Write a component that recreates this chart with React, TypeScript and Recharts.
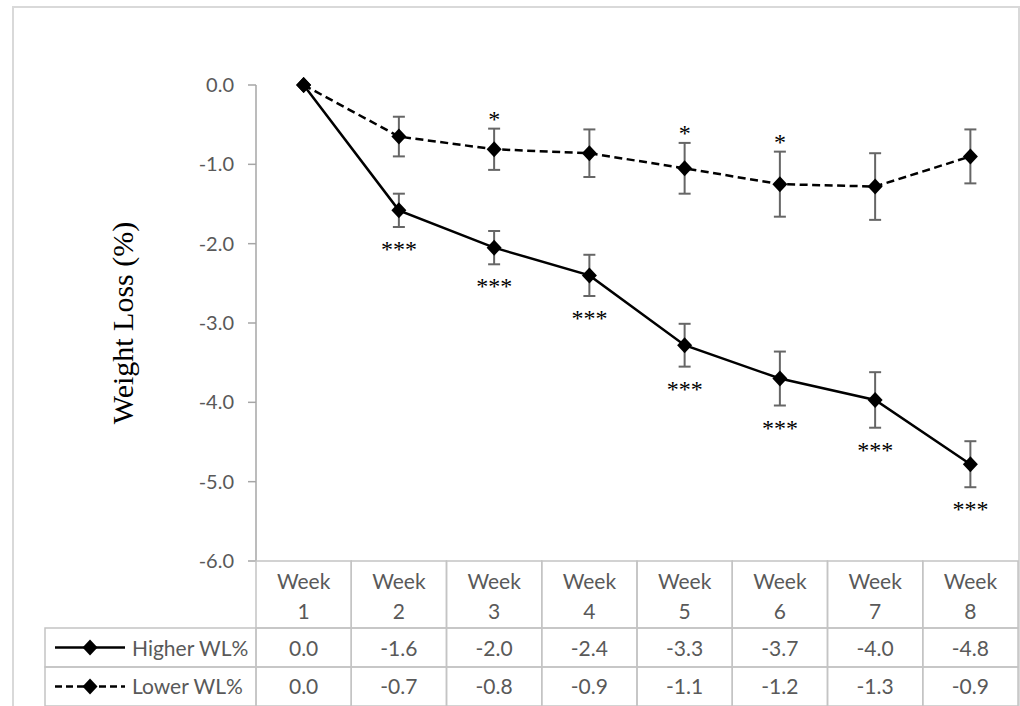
import React from "react";
import { LineChart, Line, XAxis, YAxis, ErrorBar, LabelList } from "recharts";

const weekNums = [1, 2, 3, 4, 5, 6, 7, 8];
const higher = [0, -1.58, -2.05, -2.4, -3.28, -3.7, -3.97, -4.78];
const higherErr = [0, 0.21, 0.21, 0.26, 0.27, 0.34, 0.35, 0.29];
const lower = [0, -0.65, -0.81, -0.86, -1.05, -1.25, -1.28, -0.9];
const lowerErr = [0, 0.25, 0.26, 0.3, 0.32, 0.41, 0.42, 0.34];
const higherTable = ["0.0", "-1.6", "-2.0", "-2.4", "-3.3", "-3.7", "-4.0", "-4.8"];
const lowerTable = ["0.0", "-0.7", "-0.8", "-0.9", "-1.1", "-1.2", "-1.3", "-0.9"];
const higherSig = ["", "***", "***", "***", "***", "***", "***", "***"];
const lowerSig = ["", "", "*", "", "*", "*", "", ""];
const yTicks = [0, -1, -2, -3, -4, -5, -6];

const data = weekNums.map((n, i) => ({
  week: `Week ${n}`,
  num: n,
  higher: higher[i],
  higherErr: higherErr[i],
  lower: lower[i],
  lowerErr: lowerErr[i],
  higherLow: higher[i] - higherErr[i],
  lowerHigh: lower[i] + lowerErr[i],
  higherSig: higherSig[i],
  lowerSig: lowerSig[i],
  higherTable: higherTable[i],
  lowerTable: lowerTable[i]
}));

const W = 1020;
const H = 712;
const AXIS_W = 256;
const RIGHT = 2;
const BAND = (W - RIGHT - AXIS_W) / weekNums.length;
const HEAD_H = 67;
const ROW_H = 39;
const LEGEND_LEFT = 45;

const FONT = "Lato, 'Open Sans', sans-serif";
const SERIF = "'Liberation Serif', 'Times New Roman', serif";
const TEXT = "#595959";
const GRID = "#c4c4c4";
const AXIS = "#a6a6a6";
const ERR = "#666666";

function Diamond(props: any) {
  const { cx, cy } = props;
  if (cx == null || cy == null) return null;
  return (
    <polygon
      points={`${cx},${cy - 8} ${cx + 7.5},${cy} ${cx},${cy + 8} ${cx - 7.5},${cy}`}
      fill="#000"
    />
  );
}

function LegendIcon({ y, dashed }: { y: number; dashed: boolean }) {
  return (
    <g>
      <line
        x1={55}
        x2={125}
        y1={y}
        y2={y}
        stroke="#000"
        strokeWidth={2.5}
        strokeDasharray={dashed ? "7 4" : undefined}
      />
      <Diamond cx={90} cy={y} />
    </g>
  );
}

function TableTick(props: any) {
  const { x, y, payload } = props;
  const i = payload.index;
  const d = data[i];
  const left = x - BAND / 2;
  const r1 = y + HEAD_H;
  const r2 = r1 + ROW_H;
  const txt = { fill: TEXT, fontSize: 21, fontFamily: FONT, textAnchor: "middle" as const, dominantBaseline: "central" as const };
  return (
    <g>
      <rect x={left} y={y} width={BAND} height={HEAD_H} fill="none" stroke={GRID} strokeWidth={1.5} />
      <rect x={left} y={r1} width={BAND} height={ROW_H} fill="none" stroke={GRID} strokeWidth={1.5} />
      <rect x={left} y={r2} width={BAND} height={ROW_H} fill="none" stroke={GRID} strokeWidth={1.5} />
      <text x={x} y={y + 19} {...txt}>Week</text>
      <text x={x} y={y + 49} {...txt}>{d.num}</text>
      <text x={x} y={r1 + ROW_H / 2} {...txt}>{d.higherTable}</text>
      <text x={x} y={r2 + ROW_H / 2 - 1} {...txt}>{d.lowerTable}</text>
      {i === 0 && (
        <g>
          <rect x={LEGEND_LEFT} y={r1} width={left - LEGEND_LEFT} height={ROW_H} fill="none" stroke={GRID} strokeWidth={1.5} />
          <rect x={LEGEND_LEFT} y={r2} width={left - LEGEND_LEFT} height={ROW_H} fill="none" stroke={GRID} strokeWidth={1.5} />
          <LegendIcon y={r1 + ROW_H / 2} dashed={false} />
          <LegendIcon y={r2 + ROW_H / 2} dashed={true} />
          <text x={132} y={r1 + ROW_H / 2} {...txt} textAnchor="start">Higher WL%</text>
          <text x={132} y={r2 + ROW_H / 2 - 1} {...txt} textAnchor="start">Lower WL%</text>
        </g>
      )}
    </g>
  );
}

function StarsBelow(props: any) {
  const { x, y, value } = props;
  if (!value) return null;
  return (
    <text x={x} y={y + 30} textAnchor="middle" fontFamily={SERIF} fontSize={24} fill="#000">
      {value}
    </text>
  );
}

function StarsAbove(props: any) {
  const { x, y, value } = props;
  if (!value) return null;
  return (
    <text x={x} y={y - 2} textAnchor="middle" fontFamily={SERIF} fontSize={24} fill="#000">
      {value}
    </text>
  );
}

export default function App() {
  return (
    <div style={{ position: "absolute", left: 0, top: 0, width: W, height: 706, overflow: "hidden", background: "#fff" }}>
      <div
        style={{
          position: "absolute",
          left: 12,
          top: 6,
          width: 1008,
          height: 720,
          border: "2px solid #d9d9d9",
          boxSizing: "border-box"
        }}
      />
      <div style={{ position: "absolute", left: 0, top: 0 }}>
        <LineChart width={W} height={H} data={data} margin={{ top: 85, right: RIGHT, left: 0, bottom: 0 }}>
          <XAxis
            dataKey="week"
            scale="band"
            height={HEAD_H + 2 * ROW_H + 6}
            interval={0}
            tickSize={0}
            tickMargin={0}
            axisLine={false}
            tickLine={false}
            tick={<TableTick />}
          />
          <YAxis
            type="number"
            domain={[-6, 0]}
            ticks={yTicks}
            interval={0}
            width={AXIS_W}
            tickSize={8}
            tickMargin={14}
            tickFormatter={(v: number) => v.toFixed(1)}
            tick={{ fill: TEXT, fontSize: 20, fontFamily: FONT }}
            axisLine={{ stroke: AXIS, strokeWidth: 1.5 }}
            tickLine={{ stroke: AXIS, strokeWidth: 1.5 }}
            label={{
              value: "Weight Loss (%)",
              angle: -90,
              position: "center",
              dx: -6,
              style: { fontFamily: SERIF, fontSize: 30, fill: "#000" }
            }}
          />
          <Line
            dataKey="lower"
            stroke="#000"
            strokeWidth={2.5}
            strokeDasharray="8 4.5"
            dot={<Diamond />}
            activeDot={false}
            isAnimationActive={false}
          >
            <ErrorBar dataKey="lowerErr" width={6} stroke={ERR} strokeWidth={2} direction="y" isAnimationActive={false} />
          </Line>
          <Line
            dataKey="higher"
            stroke="#000"
            strokeWidth={2.5}
            dot={<Diamond />}
            activeDot={false}
            isAnimationActive={false}
          >
            <ErrorBar dataKey="higherErr" width={6} stroke={ERR} strokeWidth={2} direction="y" isAnimationActive={false} />
          </Line>
          <Line dataKey="higherLow" stroke="none" dot={false} activeDot={false} isAnimationActive={false} legendType="none">
            <LabelList dataKey="higherSig" content={<StarsBelow />} />
          </Line>
          <Line dataKey="lowerHigh" stroke="none" dot={false} activeDot={false} isAnimationActive={false} legendType="none">
            <LabelList dataKey="lowerSig" content={<StarsAbove />} />
          </Line>
        </LineChart>
      </div>
    </div>
  );
}
